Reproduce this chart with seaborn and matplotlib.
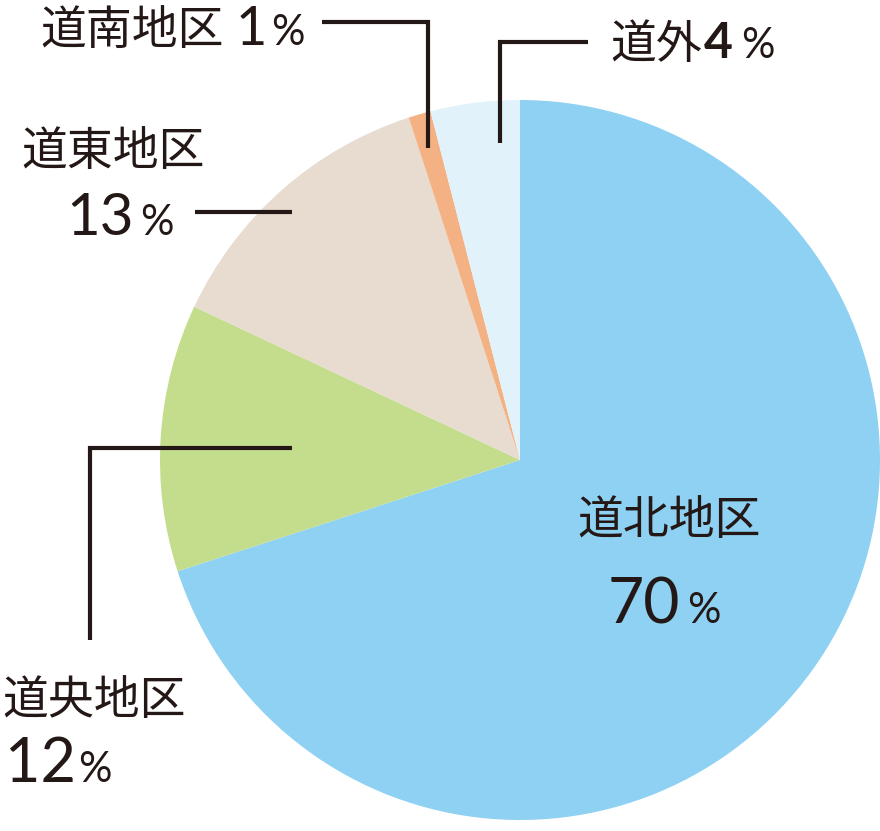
import matplotlib
matplotlib.use("Agg")
import matplotlib.pyplot as plt
import seaborn as sns

# share of each region, clockwise from 12 o'clock
regions = ["道北地区", "道央地区", "道東地区", "道南地区", "道外"]
shares = [70, 12, 13, 1, 4]
colors = ["#8fd1f3", "#c4dd8d", "#e7dccf", "#f4b183", "#e1f2fb"]
INK = "#231815"

sns.set_theme(style="white")
plt.rcParams['font.family'] = ['Noto Sans CJK JP', 'DejaVu Sans']

W, H = 880, 831
fig = plt.figure(figsize=(W / 100, H / 100), dpi=100)
ax = fig.add_axes([0, 0, 1, 1])
ax.set_xlim(0, W)
ax.set_ylim(H, 0)  # pixel coordinates, y downwards

# inverted y axis: counterclock in data == clockwise on screen, -90 == top
ax.pie(shares, colors=colors, startangle=-90, counterclock=True,
       center=(520, 460), radius=360, frame=True,
       wedgeprops=dict(linewidth=0))
ax.set_xlim(0, W)
ax.set_ylim(H, 0)
ax.set_aspect('equal')
ax.axis('off')

# leader lines
leaders = [
    [(322, 22), (428, 22), (428, 148)],   # 道南
    [(588, 42), (500, 42), (500, 143)],   # 道外
    [(195, 212), (292, 212)],             # 道東
    [(292, 448), (90, 448), (90, 640)],   # 道央
]
for pts in leaders:
    xs, ys = zip(*pts)
    ax.plot(xs, ys, color=INK, lw=3, solid_joinstyle='miter', solid_capstyle='butt')


def txt(s, x, y, size, family=None, weight='normal'):
    ax.text(x, y, s, fontsize=size, color=INK, ha='left', va='baseline',
            family=family or ['Noto Sans CJK JP', 'DejaVu Sans'], fontweight=weight)


# (region idx, name x, baseline, number x, number baseline, number size, % x, weight)
labels = [
    (3, 40, 45, 236, 45, 39, 271, 'normal'),
    (4, 610, 58, 704, 58, 36, 741, 'bold'),
    (2, 21, 165, 66, 235, 42, 140, 'normal'),
    (1, 2, 714, 5, 782, 44, 78, 'normal'),
    (0, 577, 534, 608, 623, 45, 687, 'normal'),
]
num_font = ['Lato', 'DejaVu Sans']
for i, nx, ny, vx, vy, vs, px, wt in labels:
    txt(regions[i], nx, ny, 33)
    txt(str(shares[i]), vx, vy, vs, num_font, wt)
    txt("%", px, vy, 30, num_font)

fig.savefig("out.png", dpi=100)
